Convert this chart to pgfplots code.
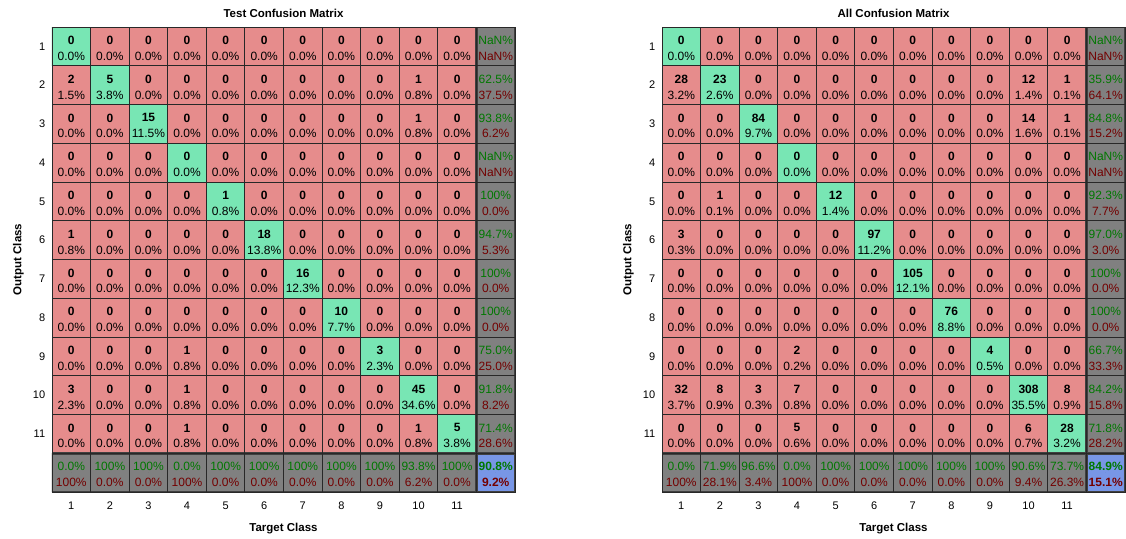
\documentclass[border=0pt]{standalone}
\usepackage{pgfplots}
\pgfplotsset{compat=1.18}
\usepackage{pgfplotstable}
\usepackage{fontspec}
\setmainfont{Liberation Sans}
\definecolor{tgreen}{RGB}{0,120,0}
\definecolor{tred}{RGB}{115,0,0}
\definecolor{gridc}{RGB}{40,40,40}
\definecolor{sepc}{RGB}{64,64,64}

% columns: x = target class, y = output class, c = cell kind (0 off-diag, 1 diag, 2 summary, 3 overall)
% n = count (or correct %), p = percent of total (or error %)
\pgfplotstableread[row sep=\\]{
x y c n p\\
1 1 1 0 0.0\\ 2 1 0 0 0.0\\ 3 1 0 0 0.0\\ 4 1 0 0 0.0\\ 5 1 0 0 0.0\\ 6 1 0 0 0.0\\ 7 1 0 0 0.0\\ 8 1 0 0 0.0\\ 9 1 0 0 0.0\\ 10 1 0 0 0.0\\ 11 1 0 0 0.0\\ 12 1 2 NaN NaN\\
1 2 0 2 1.5\\ 2 2 1 5 3.8\\ 3 2 0 0 0.0\\ 4 2 0 0 0.0\\ 5 2 0 0 0.0\\ 6 2 0 0 0.0\\ 7 2 0 0 0.0\\ 8 2 0 0 0.0\\ 9 2 0 0 0.0\\ 10 2 0 1 0.8\\ 11 2 0 0 0.0\\ 12 2 2 62.5 37.5\\
1 3 0 0 0.0\\ 2 3 0 0 0.0\\ 3 3 1 15 11.5\\ 4 3 0 0 0.0\\ 5 3 0 0 0.0\\ 6 3 0 0 0.0\\ 7 3 0 0 0.0\\ 8 3 0 0 0.0\\ 9 3 0 0 0.0\\ 10 3 0 1 0.8\\ 11 3 0 0 0.0\\ 12 3 2 93.8 6.2\\
1 4 0 0 0.0\\ 2 4 0 0 0.0\\ 3 4 0 0 0.0\\ 4 4 1 0 0.0\\ 5 4 0 0 0.0\\ 6 4 0 0 0.0\\ 7 4 0 0 0.0\\ 8 4 0 0 0.0\\ 9 4 0 0 0.0\\ 10 4 0 0 0.0\\ 11 4 0 0 0.0\\ 12 4 2 NaN NaN\\
1 5 0 0 0.0\\ 2 5 0 0 0.0\\ 3 5 0 0 0.0\\ 4 5 0 0 0.0\\ 5 5 1 1 0.8\\ 6 5 0 0 0.0\\ 7 5 0 0 0.0\\ 8 5 0 0 0.0\\ 9 5 0 0 0.0\\ 10 5 0 0 0.0\\ 11 5 0 0 0.0\\ 12 5 2 100 0.0\\
1 6 0 1 0.8\\ 2 6 0 0 0.0\\ 3 6 0 0 0.0\\ 4 6 0 0 0.0\\ 5 6 0 0 0.0\\ 6 6 1 18 13.8\\ 7 6 0 0 0.0\\ 8 6 0 0 0.0\\ 9 6 0 0 0.0\\ 10 6 0 0 0.0\\ 11 6 0 0 0.0\\ 12 6 2 94.7 5.3\\
1 7 0 0 0.0\\ 2 7 0 0 0.0\\ 3 7 0 0 0.0\\ 4 7 0 0 0.0\\ 5 7 0 0 0.0\\ 6 7 0 0 0.0\\ 7 7 1 16 12.3\\ 8 7 0 0 0.0\\ 9 7 0 0 0.0\\ 10 7 0 0 0.0\\ 11 7 0 0 0.0\\ 12 7 2 100 0.0\\
1 8 0 0 0.0\\ 2 8 0 0 0.0\\ 3 8 0 0 0.0\\ 4 8 0 0 0.0\\ 5 8 0 0 0.0\\ 6 8 0 0 0.0\\ 7 8 0 0 0.0\\ 8 8 1 10 7.7\\ 9 8 0 0 0.0\\ 10 8 0 0 0.0\\ 11 8 0 0 0.0\\ 12 8 2 100 0.0\\
1 9 0 0 0.0\\ 2 9 0 0 0.0\\ 3 9 0 0 0.0\\ 4 9 0 1 0.8\\ 5 9 0 0 0.0\\ 6 9 0 0 0.0\\ 7 9 0 0 0.0\\ 8 9 0 0 0.0\\ 9 9 1 3 2.3\\ 10 9 0 0 0.0\\ 11 9 0 0 0.0\\ 12 9 2 75.0 25.0\\
1 10 0 3 2.3\\ 2 10 0 0 0.0\\ 3 10 0 0 0.0\\ 4 10 0 1 0.8\\ 5 10 0 0 0.0\\ 6 10 0 0 0.0\\ 7 10 0 0 0.0\\ 8 10 0 0 0.0\\ 9 10 0 0 0.0\\ 10 10 1 45 34.6\\ 11 10 0 0 0.0\\ 12 10 2 91.8 8.2\\
1 11 0 0 0.0\\ 2 11 0 0 0.0\\ 3 11 0 0 0.0\\ 4 11 0 1 0.8\\ 5 11 0 0 0.0\\ 6 11 0 0 0.0\\ 7 11 0 0 0.0\\ 8 11 0 0 0.0\\ 9 11 0 0 0.0\\ 10 11 0 1 0.8\\ 11 11 1 5 3.8\\ 12 11 2 71.4 28.6\\
1 12 2 0.0 100\\ 2 12 2 100 0.0\\ 3 12 2 100 0.0\\ 4 12 2 0.0 100\\ 5 12 2 100 0.0\\ 6 12 2 100 0.0\\ 7 12 2 100 0.0\\ 8 12 2 100 0.0\\ 9 12 2 100 0.0\\ 10 12 2 93.8 6.2\\ 11 12 2 100 0.0\\ 12 12 3 90.8 9.2\\
}\testdata

\pgfplotstableread[row sep=\\]{
x y c n p\\
1 1 1 0 0.0\\ 2 1 0 0 0.0\\ 3 1 0 0 0.0\\ 4 1 0 0 0.0\\ 5 1 0 0 0.0\\ 6 1 0 0 0.0\\ 7 1 0 0 0.0\\ 8 1 0 0 0.0\\ 9 1 0 0 0.0\\ 10 1 0 0 0.0\\ 11 1 0 0 0.0\\ 12 1 2 NaN NaN\\
1 2 0 28 3.2\\ 2 2 1 23 2.6\\ 3 2 0 0 0.0\\ 4 2 0 0 0.0\\ 5 2 0 0 0.0\\ 6 2 0 0 0.0\\ 7 2 0 0 0.0\\ 8 2 0 0 0.0\\ 9 2 0 0 0.0\\ 10 2 0 12 1.4\\ 11 2 0 1 0.1\\ 12 2 2 35.9 64.1\\
1 3 0 0 0.0\\ 2 3 0 0 0.0\\ 3 3 1 84 9.7\\ 4 3 0 0 0.0\\ 5 3 0 0 0.0\\ 6 3 0 0 0.0\\ 7 3 0 0 0.0\\ 8 3 0 0 0.0\\ 9 3 0 0 0.0\\ 10 3 0 14 1.6\\ 11 3 0 1 0.1\\ 12 3 2 84.8 15.2\\
1 4 0 0 0.0\\ 2 4 0 0 0.0\\ 3 4 0 0 0.0\\ 4 4 1 0 0.0\\ 5 4 0 0 0.0\\ 6 4 0 0 0.0\\ 7 4 0 0 0.0\\ 8 4 0 0 0.0\\ 9 4 0 0 0.0\\ 10 4 0 0 0.0\\ 11 4 0 0 0.0\\ 12 4 2 NaN NaN\\
1 5 0 0 0.0\\ 2 5 0 1 0.1\\ 3 5 0 0 0.0\\ 4 5 0 0 0.0\\ 5 5 1 12 1.4\\ 6 5 0 0 0.0\\ 7 5 0 0 0.0\\ 8 5 0 0 0.0\\ 9 5 0 0 0.0\\ 10 5 0 0 0.0\\ 11 5 0 0 0.0\\ 12 5 2 92.3 7.7\\
1 6 0 3 0.3\\ 2 6 0 0 0.0\\ 3 6 0 0 0.0\\ 4 6 0 0 0.0\\ 5 6 0 0 0.0\\ 6 6 1 97 11.2\\ 7 6 0 0 0.0\\ 8 6 0 0 0.0\\ 9 6 0 0 0.0\\ 10 6 0 0 0.0\\ 11 6 0 0 0.0\\ 12 6 2 97.0 3.0\\
1 7 0 0 0.0\\ 2 7 0 0 0.0\\ 3 7 0 0 0.0\\ 4 7 0 0 0.0\\ 5 7 0 0 0.0\\ 6 7 0 0 0.0\\ 7 7 1 105 12.1\\ 8 7 0 0 0.0\\ 9 7 0 0 0.0\\ 10 7 0 0 0.0\\ 11 7 0 0 0.0\\ 12 7 2 100 0.0\\
1 8 0 0 0.0\\ 2 8 0 0 0.0\\ 3 8 0 0 0.0\\ 4 8 0 0 0.0\\ 5 8 0 0 0.0\\ 6 8 0 0 0.0\\ 7 8 0 0 0.0\\ 8 8 1 76 8.8\\ 9 8 0 0 0.0\\ 10 8 0 0 0.0\\ 11 8 0 0 0.0\\ 12 8 2 100 0.0\\
1 9 0 0 0.0\\ 2 9 0 0 0.0\\ 3 9 0 0 0.0\\ 4 9 0 2 0.2\\ 5 9 0 0 0.0\\ 6 9 0 0 0.0\\ 7 9 0 0 0.0\\ 8 9 0 0 0.0\\ 9 9 1 4 0.5\\ 10 9 0 0 0.0\\ 11 9 0 0 0.0\\ 12 9 2 66.7 33.3\\
1 10 0 32 3.7\\ 2 10 0 8 0.9\\ 3 10 0 3 0.3\\ 4 10 0 7 0.8\\ 5 10 0 0 0.0\\ 6 10 0 0 0.0\\ 7 10 0 0 0.0\\ 8 10 0 0 0.0\\ 9 10 0 0 0.0\\ 10 10 1 308 35.5\\ 11 10 0 8 0.9\\ 12 10 2 84.2 15.8\\
1 11 0 0 0.0\\ 2 11 0 0 0.0\\ 3 11 0 0 0.0\\ 4 11 0 5 0.6\\ 5 11 0 0 0.0\\ 6 11 0 0 0.0\\ 7 11 0 0 0.0\\ 8 11 0 0 0.0\\ 9 11 0 0 0.0\\ 10 11 0 6 0.7\\ 11 11 1 28 3.2\\ 12 11 2 71.8 28.2\\
1 12 2 0.0 100\\ 2 12 2 71.9 28.1\\ 3 12 2 96.6 3.4\\ 4 12 2 0.0 100\\ 5 12 2 100 0.0\\ 6 12 2 100 0.0\\ 7 12 2 100 0.0\\ 8 12 2 100 0.0\\ 9 12 2 100 0.0\\ 10 12 2 90.6 9.4\\ 11 12 2 73.7 26.3\\ 12 12 3 84.9 15.1\\
}\alldata

\pgfplotsset{
  cmaxis/.style={
    scale only axis, width=463pt, height=465pt,
    anchor=north west,
    xmin=0.5, xmax=12.5, ymin=0.5, ymax=12.5, y dir=reverse,
    xtick={1,...,11}, ytick={1,...,11},
    minor xtick={0.5,1.5,...,12.5}, minor ytick={0.5,1.5,...,12.5},
    xminorgrids=true, yminorgrids=true,
    minor grid style={draw=gridc, line width=0.9pt},
    major tick length=0pt, minor tick length=0pt,
    axis line style={draw=gridc, line width=0.9pt},
    axis on top,
    /pgf/number format/assume math mode=true,
    tick label style={font=\fontsize{11}{12}\selectfont},
    yticklabel style={xshift=-3.3pt},
    xticklabel style={yshift=-6pt},
    title style={at={(axis description cs:0.5,1.0172)}, anchor=center, font=\bfseries\fontsize{11.5}{13}\selectfont},
    xlabel={Target Class}, ylabel={Output Class},
    label style={font=\bfseries\fontsize{11.5}{13}\selectfont},
    xlabel style={at={(axis description cs:0.5,-0.085)}, anchor=base},
    ylabel style={at={(axis description cs:-0.066,0.5)}, anchor=base},
    colormap={cm}{rgb255=(230,140,140) rgb255=(120,230,180) rgb255=(128,128,128) rgb255=(120,150,230)},
    colormap access=direct,
  },
  lbl/.style={only marks, mark=*, mark size=0pt, mark options={draw=none, fill=none}, forget plot,
    point meta=explicit symbolic, nodes near coords,
    nodes near coords style={anchor=center, inner sep=0pt, font=\fontsize{12}{13}\selectfont}},
  cnt/.style={lbl, nodes near coords={\pgfplotspointmeta},
    nodes near coords style={font=\bfseries\fontsize{12}{13}\selectfont, text=black, yshift=6pt}},
  pct/.style={lbl, nodes near coords={\pgfplotspointmeta\%},
    nodes near coords style={text=black, yshift=-9.8pt}},
  sg/.style={lbl, nodes near coords={\pgfplotspointmeta\%},
    nodes near coords style={text=tgreen, yshift=6pt}},
  sr/.style={lbl, nodes near coords={\pgfplotspointmeta\%},
    nodes near coords style={text=tred, yshift=-9.8pt}},
  bg/.style={sg, nodes near coords style={font=\bfseries\fontsize{12}{13}\selectfont}},
  br/.style={sr, nodes near coords style={font=\bfseries\fontsize{12}{13}\selectfont}},
}

\newcommand\cmbody[1]{%
  \addplot[matrix plot*, mesh/cols=12, point meta=explicit, forget plot] table[x=x, y=y, meta=c]{#1};
  \addplot[cnt, restrict x to domain=0:11.5, restrict y to domain=0:11.5] table[x=x, y=y, meta=n]{#1};
  \addplot[pct, restrict x to domain=0:11.5, restrict y to domain=0:11.5] table[x=x, y=y, meta=p]{#1};
  \addplot[sg, restrict x to domain=11.9:12.1, restrict y to domain=0:11.5] table[x=x, y=y, meta=n]{#1};
  \addplot[sr, restrict x to domain=11.9:12.1, restrict y to domain=0:11.5] table[x=x, y=y, meta=p]{#1};
  \addplot[sg, restrict x to domain=0:11.5, restrict y to domain=11.9:12.1] table[x=x, y=y, meta=n]{#1};
  \addplot[sr, restrict x to domain=0:11.5, restrict y to domain=11.9:12.1] table[x=x, y=y, meta=p]{#1};
  \addplot[bg, restrict x to domain=11.9:12.1, restrict y to domain=11.9:12.1] table[x=x, y=y, meta=n]{#1};
  \addplot[br, restrict x to domain=11.9:12.1, restrict y to domain=11.9:12.1] table[x=x, y=y, meta=p]{#1};
  \draw[sepc, line width=3.5pt] (axis cs:0.5,11.5) -- (axis cs:12.5,11.5);
  \draw[sepc, line width=3.2pt] (axis cs:11.5,0.5) -- (axis cs:11.5,12.5);
  \draw[sepc, line width=2pt] (axis cs:12.5,0.5) -- (axis cs:12.5,12.5) -- (axis cs:0.5,12.5);
}

\begin{document}
\begin{tikzpicture}
\useasboundingbox (0,0) rectangle (1126pt,-538pt);
\begin{axis}[cmaxis, at={(52pt,-27pt)}, title={Test Confusion Matrix}]
\cmbody{\testdata}
\end{axis}
\begin{axis}[cmaxis, at={(662pt,-27pt)}, title={All Confusion Matrix}]
\cmbody{\alldata}
\end{axis}
\end{tikzpicture}
\end{document}
